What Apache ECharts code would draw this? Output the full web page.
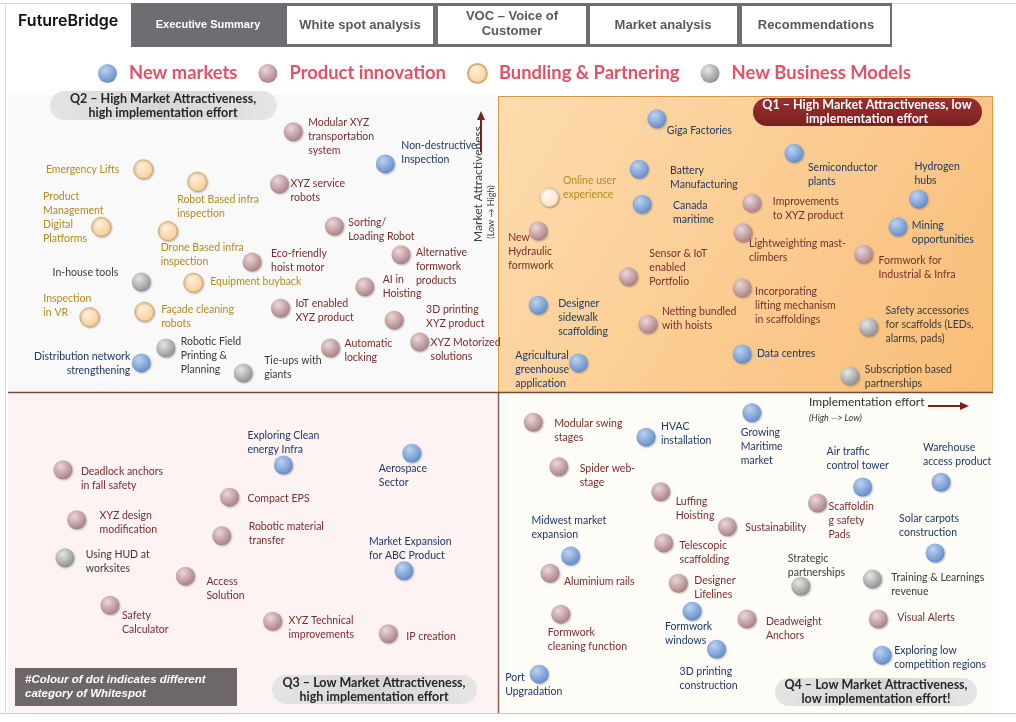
<!DOCTYPE html>
<html>
<head>
<meta charset="utf-8">
<script src="https://cdn.jsdelivr.net/npm/echarts@6/dist/echarts.min.js"></script>
<style>
html,body{margin:0;padding:0;background:#fff;}
#chart{width:1016px;height:722px;}
</style>
</head>
<body>
<div id="chart"></div>
<script>
// ---------- DATA ----------
const categories = ['New markets', 'Product innovation', 'Bundling & Partnering', 'New Business Models'];
const tabs = ['Executive Summary', 'White spot analysis', 'VOC – Voice of\nCustomer', 'Market analysis', 'Recommendations'];

const names = [
  'Emergency Lifts', 'Robot Based infra\ninspection', 'Product\nManagement\nDigital\nPlatforms', 'Drone Based infra\ninspection',
  'In-house tools', 'Equipment buyback', 'Inspection\nin VR', 'Façade cleaning\nrobots', 'Distribution network\nstrengthening',
  'Robotic Field\nPrinting &\nPlanning', 'Tie-ups with\ngiants', 'Modular XYZ\ntransportation\nsystem', 'Non-destructive\nInspection',
  'XYZ service\nrobots', 'Sorting/\nLoading Robot', 'Eco-friendly\nhoist motor', 'Alternative\nformwork\nproducts', 'AI in\nHoisting',
  'IoT enabled\nXYZ product', '3D printing\nXYZ product', 'Automatic\nlocking', 'XYZ Motorized\nsolutions',
  'Giga Factories', 'Battery\nManufacturing', 'Online user\nexperience', 'Canada\nmaritime', 'New\nHydraulic\nformwork',
  'Sensor & IoT\nenabled\nPortfolio', 'Designer\nsidewalk\nscaffolding', 'Netting bundled\nwith hoists', 'Agricultural\ngreenhouse\napplication',
  'Improvements\nto XYZ product', 'Lightweighting mast-\nclimbers', 'Incorporating\nlifting mechanism\nin scaffoldings', 'Data centres',
  'Semiconductor\nplants', 'Hydrogen\nhubs', 'Mining\nopportunities', 'Formwork for\nIndustrial & Infra',
  'Safety accessories\nfor scaffolds (LEDs,\nalarms, pads)', 'Subscription based\npartnerships',
  'Deadlock anchors\nin fall safety', 'XYZ design\nmodification', 'Using HUD at\nworksites', 'Access\nSolution', 'Safety\nCalculator',
  'Compact EPS', 'Robotic material\ntransfer', 'Exploring Clean\nenergy Infra', 'Aerospace\nSector', 'Market Expansion\nfor ABC Product',
  'XYZ Technical\nimprovements', 'IP creation',
  'Modular swing\nstages', 'HVAC\ninstallation', 'Spider web-\nstage', 'Luffing\nHoisting', 'Midwest market\nexpansion', 'Sustainability',
  'Telescopic\nscaffolding', 'Aluminium rails', 'Designer\nLifelines', 'Formwork\nwindows', 'Formwork\ncleaning function',
  '3D printing\nconstruction', 'Port\nUpgradation', 'Deadweight\nAnchors', 'Growing\nMaritime\nmarket', 'Air traffic\ncontrol tower',
  'Warehouse\naccess product', 'Scaffoldin\ng safety\nPads', 'Solar carpots\nconstruction', 'Strategic\npartnerships',
  'Training & Learnings\nrevenue', 'Visual Alerts', 'Exploring low\ncompetition regions'
];
// implementation ease (High effort -> Low effort), 0-100
const effort = [
  13.8, 19.3, 9.5, 16.3, 13.6, 18.9, 8.3, 13.9, 13.6, 16.1, 24.0, 29.1, 38.5, 27.7, 33.3, 24.9, 40.1, 36.4, 27.8, 39.4, 32.9, 42.0,
  66.2, 64.4, 55.2, 64.7, 54.1, 63.3, 54.1, 65.3, 58.2, 75.9, 75.0, 74.9, 74.9, 80.2, 92.9, 90.8, 87.3, 87.8, 85.9,
  5.6, 7.0, 5.8, 18.1, 10.4, 22.6, 21.8, 28.1, 41.2, 40.4, 27.0, 38.8,
  53.6, 65.1, 56.2, 66.6, 57.4, 73.4, 66.9, 55.3, 68.4, 69.8, 56.4, 72.3, 54.2, 75.4, 75.9, 87.2, 95.2, 82.6, 94.6, 80.9, 88.2, 88.8, 89.2
];
// market attractiveness (Low -> High), 0-100
const attract = [
  87.5, 85.4, 77.8, 77.1, 68.5, 68.4, 62.6, 63.5, 54.9, 57.4, 53.2, 93.8, 88.4, 85.0, 77.9, 71.9, 73.1, 67.7, 64.1, 62.1, 57.4, 58.4,
  96.0, 87.5, 82.8, 81.6, 77.1, 69.4, 64.6, 61.4, 54.9, 81.8, 76.8, 67.5, 56.4, 90.2, 82.5, 77.8, 73.2, 60.9, 52.7,
  36.9, 28.5, 22.1, 19.0, 14.1, 32.3, 25.8, 37.7, 39.7, 19.9, 11.4, 9.3,
  44.9, 42.4, 37.4, 33.2, 22.4, 27.3, 24.6, 19.5, 17.8, 13.1, 12.6, 6.7, 2.5, 11.8, 46.5, 34.0, 34.8, 31.3, 22.9, 17.3, 18.5, 11.8, 5.7
];
// category index into `categories`
const cat = [
  2, 2, 2, 2, 3, 2, 2, 2, 0, 3, 3, 1, 0, 1, 1, 1, 1, 1, 1, 1, 1, 1,
  0, 0, 2, 0, 1, 1, 0, 1, 0, 1, 1, 1, 0, 0, 0, 0, 1, 3, 3,
  1, 1, 3, 1, 1, 1, 1, 0, 0, 0, 1, 1,
  1, 0, 1, 1, 0, 1, 1, 1, 1, 0, 1, 0, 0, 1, 0, 0, 0, 1, 0, 3, 3, 1, 0
];

// ---------- STYLE / LAYOUT (label placement relative to dot, px) ----------
const labelLayout = [
  [-24, -7, 'right'], [-20, 11], [-58, -37], [-7, 10], [-23, -17, 'right'], [17, -8], [-46, -26], [17, -9], [-11, -13, 'right'],
  [15, -13], [21, -19], [15, -16], [16, -25], [11, -7], [14, -11], [19, -15], [15, -9], [18, -14], [15, -12], [32, -18], [14, -11], [11, -6],
  [10, 5], [31, -6], [14, -24], [31, -6], [-30, 0], [21, -30], [20, -9], [14, -20], [-63, -14], [21, -8], [6, 4], [13, -3], [15, -7],
  [14, 7], [-4, -39], [14, -8], [15, -1], [17, -24], [15, -13],
  [18, -5], [23, -11], [21, -10], [21, -2], [12, 3], [18, -6], [27, -16], [-36, -36], [-33, 8], [-35, -36], [16, -8], [18, -4],
  [21, -6], [15, -18], [21, -5], [15, 3], [-39, -42], [18, -6], [16, -4], [14, 1], [16, -10], [-27, 8], [-13, 11], [-37, 15], [-34, -4],
  [19, -4], [-11, 13], [-36, -42], [-18, -42], [11, -3], [-36, -41], [-13, -35], [19, -9], [19, -8], [12, -12]
];

const FONT = 'Lato, "Open Sans", sans-serif';
const labelColors = ['#1f3864', '#7b2c2c', '#b58b1d', '#3a3a3a'];
function radial(c0, c1) {
  return { type: 'radial', x: 0.38, y: 0.32, r: 0.75, colorStops: [{ offset: 0, color: c0 }, { offset: 1, color: c1 }] };
}
const dotFill = [
  radial('#bcd2f1', '#5e87c6'),
  radial('#ecd7d7', '#a57a7d'),
  radial('#fff0da', '#f8cc90'),
  radial('#e6e6e6', '#8a8a8a')
];
const dotBorder = ['rgba(0,0,0,0)', 'rgba(0,0,0,0)', '#d6ac74', 'rgba(0,0,0,0)'];

// ---------- SERIES ----------
const series = categories.map((cname, c) => {
  const data = [];
  names.forEach((n, i) => {
    if (cat[i] !== c) return;
    const lay = labelLayout[i];
    const item = {
      name: n,
      value: [effort[i], attract[i]],
      label: { offset: [lay[0], lay[1]], align: lay[2] || 'left', verticalAlign: 'top' }
    };
    if (n === 'Online user\nexperience') {
      item.itemStyle = { color: radial('#fffaf2', '#fbe3c0'), borderColor: '#e2c79e' };
    }
    data.push(item);
  });
  return {
    type: 'scatter',
    name: cname,
    symbol: 'circle',
    symbolSize: 19,
    z: 5,
    itemStyle: {
      color: dotFill[c], borderColor: dotBorder[c], borderWidth: c === 2 ? 1 : 0, opacity: 1,
      shadowBlur: 2, shadowColor: 'rgba(0,0,0,0.25)', shadowOffsetX: 1, shadowOffsetY: 1
    },
    label: {
      show: true, position: 'inside', formatter: '{b}', color: labelColors[c],
      fontFamily: FONT, fontSize: 10.5, lineHeight: 14
    },
    emphasis: { disabled: true },
    data: data
  };
});

// ---------- DECORATION ----------
function txt(x, y, text, font, fill, align, extra) {
  return Object.assign({
    type: 'text', x: x, y: y, z: 20,
    style: { text: text, font: font, fill: fill, align: align || 'center', textAlign: align || 'center', verticalAlign: 'middle', textVerticalAlign: 'middle', lineHeight: 14 }
  }, extra || {});
}
function pill(x, y, w, h, fill) {
  return { type: 'rect', z: 15, shape: { x: x, y: y, width: w, height: h, r: h / 2 }, style: { fill: fill } };
}
const grayPill = { type: 'linear', x: 0, y: 0, x2: 1, y2: 0, colorStops: [{ offset: 0, color: '#e4e4e4' }, { offset: 0.5, color: '#d6d6d6' }, { offset: 1, color: '#e6e6e6' }] };
const redPill = { type: 'linear', x: 0, y: 0, x2: 0, y2: 1, colorStops: [{ offset: 0, color: '#9a2f2f' }, { offset: 1, color: '#7c2020' }] };
const TABFONT = 'bold 13px "Liberation Sans", Arial, sans-serif';

const graphics = [
  // frame lines
  { type: 'line', z: 1, shape: { x1: 0, y1: 3.5, x2: 1016, y2: 3.5 }, style: { stroke: '#d4d4d4', lineWidth: 1 } },
  { type: 'line', z: 1, shape: { x1: 5.5, y1: 3, x2: 5.5, y2: 714 }, style: { stroke: '#dcdcdc', lineWidth: 1 } },
  { type: 'line', z: 1, shape: { x1: 0, y1: 713.5, x2: 1016, y2: 713.5 }, style: { stroke: '#c8c8c8', lineWidth: 1 } },
  // quadrant backgrounds
  { type: 'rect', z: 0, shape: { x: 8, y: 95, width: 490, height: 297 }, style: { fill: '#f9f9f9' } },
  { type: 'rect', z: 0, shape: { x: 8, y: 393, width: 490, height: 320 }, style: { fill: '#fdf3f3' } },
  { type: 'rect', z: 0, shape: { x: 498, y: 393, width: 495, height: 320 }, style: { fill: '#fefcf7' } },
  { type: 'rect', z: 1, shape: { x: 498.5, y: 96.5, width: 494, height: 296 },
    style: { fill: { type: 'linear', x: 0, y: 0, x2: 1, y2: 1, colorStops: [{ offset: 0, color: '#fddcae' }, { offset: 1, color: '#f9bd77' }] }, stroke: '#d8983f', lineWidth: 1 } },
  // dividers
  { type: 'line', z: 2, shape: { x1: 8, y1: 392.5, x2: 993, y2: 392.5 }, style: { stroke: '#7a4836', lineWidth: 1.5 } },
  { type: 'line', z: 2, shape: { x1: 498.5, y1: 393, x2: 498.5, y2: 713 }, style: { stroke: '#8c5c5c', lineWidth: 1.5 } },
  // header tabs
  { type: 'rect', z: 10, shape: { x: 131, y: 3, width: 761, height: 44 }, style: { fill: '#6d6e72' } },
  { type: 'rect', z: 11, shape: { x: 287, y: 6, width: 146, height: 38 }, style: { fill: '#ffffff' } },
  { type: 'rect', z: 11, shape: { x: 438, y: 6, width: 148, height: 38 }, style: { fill: '#ffffff' } },
  { type: 'rect', z: 11, shape: { x: 590, y: 6, width: 147, height: 38 }, style: { fill: '#ffffff' } },
  { type: 'rect', z: 11, shape: { x: 742, y: 6, width: 148, height: 38 }, style: { fill: '#ffffff' } },
  txt(208, 25, tabs[0], 'bold 11px "Liberation Sans", Arial, sans-serif', '#ffffff'),
  txt(360, 25, tabs[1], TABFONT, '#595959'),
  txt(512, 24, tabs[2], TABFONT, '#595959', 'center', { style: { text: tabs[2], font: TABFONT, fill: '#595959', align: 'center', textAlign: 'center', verticalAlign: 'middle', textVerticalAlign: 'middle', lineHeight: 15 } }),
  txt(663, 25, tabs[3], TABFONT, '#595959'),
  txt(816, 25, tabs[4], TABFONT, '#595959'),
  txt(18, 21, 'FutureBridge', '600 16px Inter, "Open Sans", sans-serif', '#111111', 'left'),
  // quadrant titles
  pill(50, 91, 227, 29, grayPill),
  txt(163, 106, 'Q2 – High Market Attractiveness,\nhigh implementation effort', 'bold 12.5px ' + FONT, '#262626'),
  pill(753, 98, 229, 28, redPill),
  txt(867, 112, 'Q1 – High Market Attractiveness, low\nimplementation effort', 'bold 12.5px ' + FONT, '#ffffff'),
  pill(272, 675, 205, 29, grayPill),
  txt(374, 690, 'Q3 – Low Market Attractiveness,\nhigh implementation effort', 'bold 12.5px ' + FONT, '#262626'),
  pill(775, 678, 202, 28, grayPill),
  txt(876, 692, 'Q4 – Low Market Attractiveness,\nlow implementation effort!', 'bold 12.5px ' + FONT, '#262626'),
  // note box
  { type: 'rect', z: 15, shape: { x: 15, y: 668, width: 222, height: 38 }, style: { fill: '#6d676c' } },
  txt(25, 687, '#Colour of dot indicates different\ncategory of Whitespot', 'italic bold 11.5px "Liberation Sans", Arial, sans-serif', '#ffffff', 'left'),
  // market attractiveness axis label + arrow
  txt(478, 184, 'Market Attractiveness', '12px ' + FONT, '#404040', 'center', { rotation: Math.PI / 2 }),
  txt(491, 212, '(Low → High)', '9px ' + FONT, '#404040', 'center', { rotation: Math.PI / 2 }),
  { type: 'line', z: 20, shape: { x1: 481, y1: 152, x2: 481, y2: 118 }, style: { stroke: '#7b1f1f', lineWidth: 2 } },
  { type: 'polygon', z: 20, shape: { points: [[477, 120], [485, 120], [481, 111]] }, style: { fill: '#7b1f1f' } },
  // implementation effort label + arrow
  txt(809, 402, 'Implementation effort', '12px ' + FONT, '#303030', 'left'),
  txt(809, 418, '(High --> Low)', 'italic 9px ' + FONT, '#303030', 'left'),
  { type: 'line', z: 20, shape: { x1: 928, y1: 406, x2: 962, y2: 406 }, style: { stroke: '#7b1f1f', lineWidth: 2 } },
  { type: 'polygon', z: 20, shape: { points: [[960, 402], [960, 410], [969, 406]] }, style: { fill: '#7b1f1f' } }
];

const chart = echarts.init(document.getElementById('chart'), null, { renderer: 'canvas' });
chart.setOption({
  animation: false,
  backgroundColor: '#ffffff',
  grid: { left: 8, top: 95, width: 980, height: 594 },
  xAxis: { type: 'value', min: 0, max: 100, show: false },
  yAxis: { type: 'value', min: 0, max: 100, show: false },
  legend: {
    left: 93, top: 58, icon: 'circle', itemWidth: 19, itemHeight: 19, itemGap: 21,
    selectedMode: false,
    textStyle: { fontFamily: FONT, fontWeight: 'bold', fontSize: 18.4, color: '#e05366', padding: [0, 0, 0, 7] },
    data: categories
  },
  graphic: { elements: graphics },
  series: series
});
</script>
</body>
</html>
